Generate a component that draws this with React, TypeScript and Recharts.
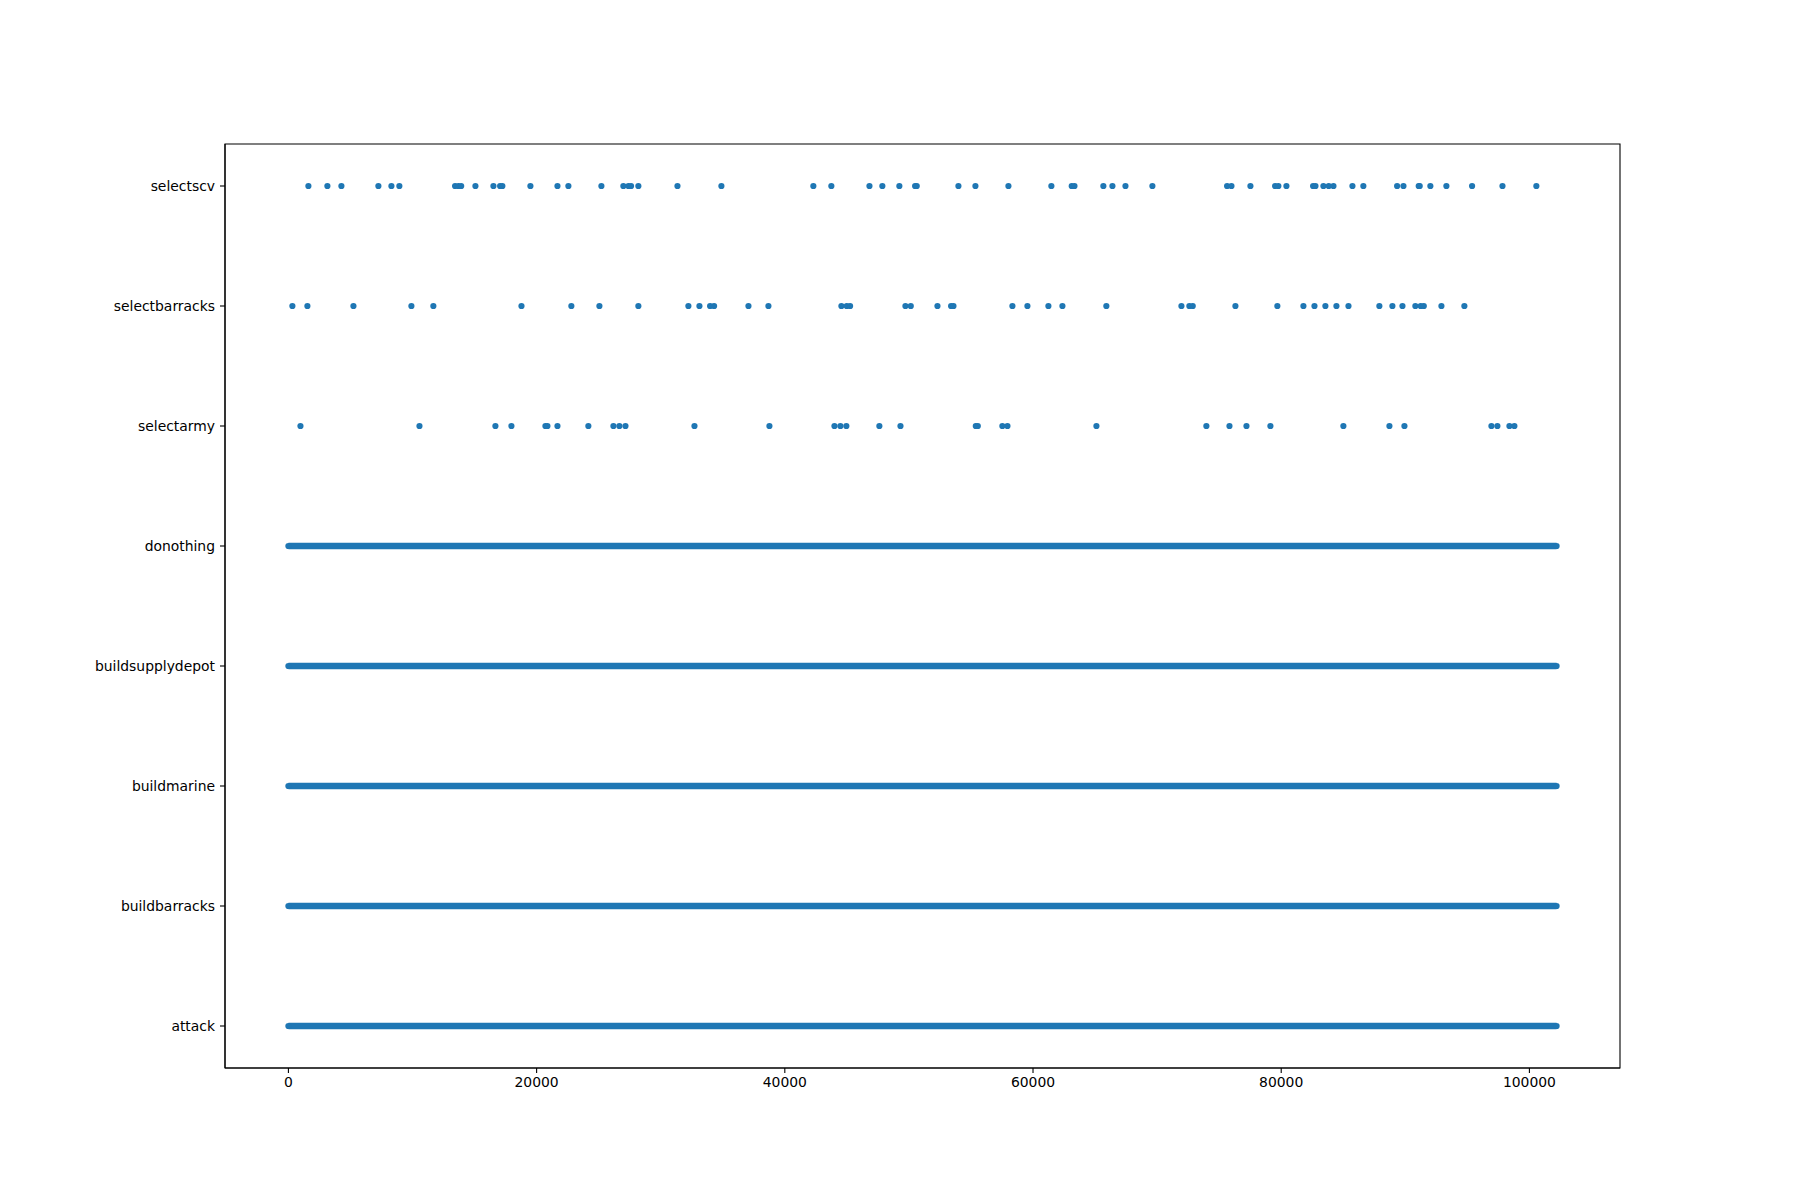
import React from 'react'
import { ScatterChart, Scatter, XAxis, YAxis, ReferenceArea } from 'recharts'

const categories = [
  'attack',
  'buildbarracks',
  'buildmarine',
  'buildsupplydepot',
  'donothing',
  'selectarmy',
  'selectbarracks',
  'selectscv',
]

const xTicks = [0, 20000, 40000, 60000, 80000, 100000]
const xDomain = [-5110, 107300]
const yDomain = [-0.35, 7.35]

// the dense rows are solid from first step to last
const denseRows = ['attack', 'buildbarracks', 'buildmarine', 'buildsupplydepot', 'donothing']
const denseRange = [0, 102190]

const selectscvSteps = [
  1610, 3140, 4270, 7250, 8300, 8940, 13430, 13700, 13920, 15070, 16520, 17060, 17240,
  19500, 21680, 22560, 25220, 26990, 27400, 27610, 28200, 31350, 34890, 42300, 43750,
  46820, 47860, 49230, 50500, 50630, 53990, 55360, 58020, 61480, 63120, 63340, 65670,
  66400, 67450, 69620, 75640, 75990, 77520, 79510, 79770, 80420, 82570, 82760, 83400,
  83830, 84210, 85740, 86620, 89340, 89850, 91080, 91160, 92020, 93310, 95380, 97830,
  100560,
]

const selectbarracksSteps = [
  320, 1530, 5240, 9910, 11680, 18780, 22800, 25060, 28200, 32230, 33120, 33980, 34300,
  37070, 38680, 44560, 44990, 45260, 49720, 50150, 52300, 53400, 53590, 58340, 59550,
  61240, 62370, 65910, 71960, 72600, 72870, 76310, 79690, 81790, 82680, 83560, 84450,
  85420, 87910, 88960, 89770, 90810, 91240, 91490, 92910, 94760,
]

const selectarmySteps = [
  970, 10560, 16680, 17970, 20710, 20870, 21680, 24170, 26190, 26670, 27160, 32720,
  38760, 44000, 44480, 44960, 47620, 49320, 55390, 55550, 57530, 57940, 65110, 73970,
  75830, 77200, 79130, 85010, 88720, 89930, 96940, 97420, 98390, 98790,
]

const BLUE = '#1f77b4'
const FONT = '"DejaVu Sans", sans-serif'

const rowOf = (name: string) => categories.indexOf(name)

const sparse = [
  { name: 'selectscv', steps: selectscvSteps },
  { name: 'selectbarracks', steps: selectbarracksSteps },
  { name: 'selectarmy', steps: selectarmySteps },
].map((r) => ({ name: r.name, points: r.steps.map((x) => ({ x, y: rowOf(r.name) })) }))

const dense = denseRows.map((name) => ({
  name,
  points: denseRange.map((x) => ({ x, y: rowOf(name) })),
}))

const Dot = (props: any) => <circle cx={props.cx} cy={props.cy} r={3.1} fill={BLUE} />

const tickStyle = { fill: '#000', fontSize: 13.9, fontFamily: FONT }

export default function App() {
  return (
    <div style={{ position: 'absolute', left: 0, top: 0, width: 1800, height: 1200, background: '#fff' }}>
      <ScatterChart width={1800} height={1200} margin={{ top: 144, right: 180, bottom: 102, left: 25 }}>
        <XAxis
          type="number"
          dataKey="x"
          domain={xDomain}
          ticks={xTicks}
          allowDataOverflow
          height={30}
          tick={tickStyle}
          tickSize={5}
          tickMargin={4}
          stroke="#000"
          tickLine={{ stroke: '#000', strokeWidth: 1.1 }}
          axisLine={{ stroke: '#000', strokeWidth: 1.1 }}
        />
        <YAxis
          type="number"
          dataKey="y"
          domain={yDomain}
          ticks={categories.map((_, i) => i)}
          tickFormatter={(v: number) => categories[v]}
          allowDataOverflow
          width={200}
          tick={tickStyle}
          tickSize={5}
          tickMargin={5}
          stroke="#000"
          tickLine={{ stroke: '#000', strokeWidth: 1.1 }}
          axisLine={{ stroke: '#000', strokeWidth: 1.1 }}
        />
        {/* frame around the plot area */}
        <ReferenceArea
          x1={xDomain[0]}
          x2={xDomain[1]}
          y1={yDomain[0]}
          y2={yDomain[1]}
          fill="none"
          fillOpacity={0}
          stroke="#000"
          strokeWidth={1.1}
          strokeOpacity={1}
        />
        {dense.map((r) => (
          <Scatter
            key={r.name}
            name={r.name}
            data={r.points}
            fill={BLUE}
            shape={Dot}
            line={{ stroke: BLUE, strokeWidth: 6.4 }}
            lineType="joint"
            isAnimationActive={false}
          />
        ))}
        {sparse.map((r) => (
          <Scatter
            key={r.name}
            name={r.name}
            data={r.points}
            fill={BLUE}
            shape={Dot}
            isAnimationActive={false}
          />
        ))}
      </ScatterChart>
    </div>
  )
}
